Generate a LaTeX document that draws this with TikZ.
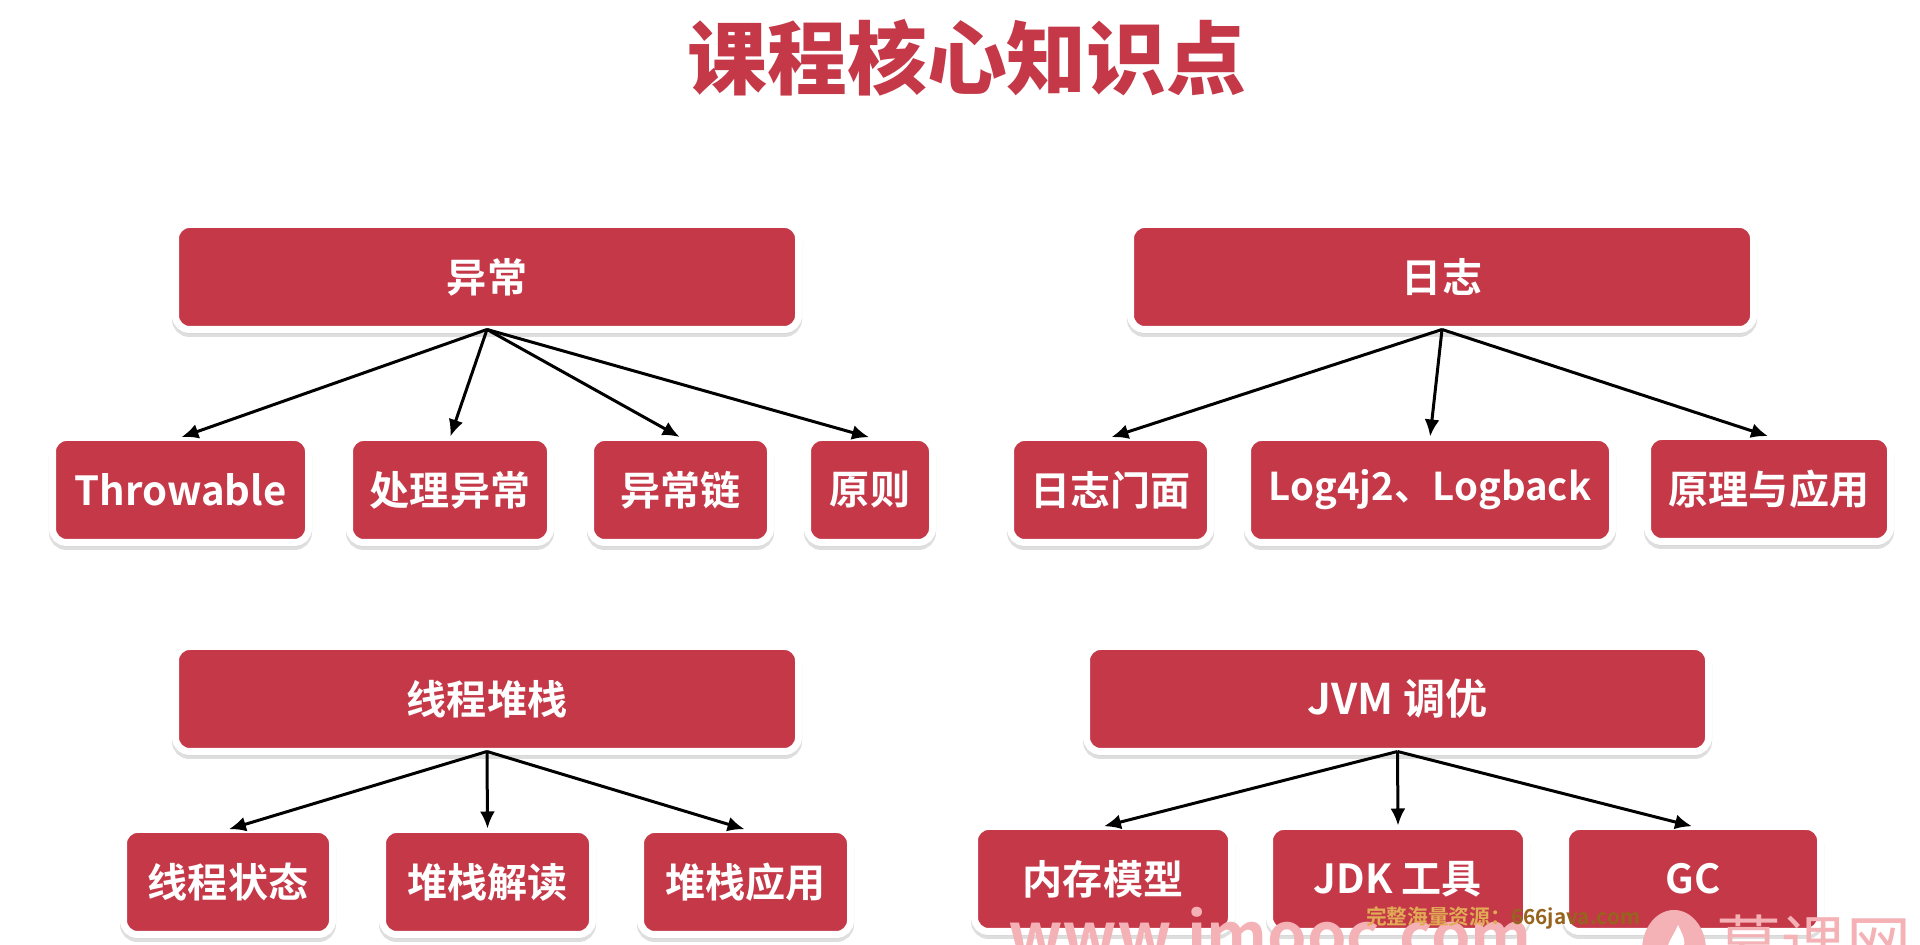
\documentclass[tikz,border=0pt]{standalone}
\usepackage{fontspec}
\usetikzlibrary{shadows,arrows.meta}
\setmainfont{Noto Sans CJK SC}[BoldFont={* Bold}]
\newfontfamily\heavyfont{Noto Sans CJK SC Black}
\definecolor{boxred}{RGB}{196,56,72}
\definecolor{markpink}{RGB}{245,178,182}
\definecolor{markgold}{RGB}{150,100,30}
\definecolor{markpale}{RGB}{225,170,85}
\tikzset{
  topic/.style={rectangle, rounded corners=.14cm, fill=boxred, draw=white, line width=.07cm,
    text=white, font=\bfseries\fontsize{11.4}{13}\selectfont, inner sep=0pt, outer sep=0pt, align=center,
    minimum height=1.05cm,
    drop shadow={shadow xshift=0cm, shadow yshift=-.04cm, draw=black!25, fill=black!25}},
  link/.style={-{Latex[length=.17cm,width=.15cm]}, black, line width=.03cm, shorten >=.01cm},
}
\begin{document}
\begin{tikzpicture}
 \useasboundingbox (0cm, 0cm) rectangle (19.2cm, 9.45cm);
 \fill[white] (0cm, 0cm) rectangle (19.2cm, 9.45cm);

 \node[text=boxred, font=\heavyfont\fontsize{22.7}{26}\selectfont] (title) at (9.67cm, 8.87cm) {课程核心知识点};

 % top left
 \node[topic, minimum width=6.23cm] (yichang) at (4.87cm, 6.68cm) {异常};
 \node[topic, minimum width=2.56cm] (throwable) at (1.805cm, 4.55cm) {Throwable};
 \node[topic, minimum width=2.01cm] (chuli) at (4.50cm, 4.55cm) {处理异常};
 \node[topic, minimum width=1.80cm] (lian) at (6.805cm, 4.55cm) {异常链};
 \node[topic, minimum width=1.25cm] (yuanze) at (8.70cm, 4.55cm) {原则};

 % top right
 \node[topic, minimum width=6.23cm] (rizhi) at (14.42cm, 6.68cm) {日志};
 \node[topic, minimum width=2.00cm] (menmian) at (11.105cm, 4.55cm) {日志门面};
 \node[topic, minimum width=3.65cm, font=\bfseries\fontsize{10.9}{13}\selectfont] (logj) at (14.30cm, 4.55cm) {Log4j2、Logback};
 \node[topic, minimum width=2.43cm] (yuanli) at (17.69cm, 4.56cm) {原理与应用};

 % bottom left
 \node[topic, minimum width=6.23cm] (xiancheng) at (4.87cm, 2.46cm) {线程堆栈};
 \node[topic, minimum width=2.09cm] (zhuangtai) at (2.28cm, .63cm) {线程状态};
 \node[topic, minimum width=2.10cm] (jiedu) at (4.875cm, .63cm) {堆栈解读};
 \node[topic, minimum width=2.10cm] (yingyong) at (7.455cm, .63cm) {堆栈应用};

 % bottom right
 \node[topic, minimum width=6.22cm, font=\bfseries\fontsize{12}{13}\selectfont] (jvm) at (13.975cm, 2.46cm) {JVM 调优};
 \node[topic, minimum width=2.57cm] (neicun) at (11.03cm, .66cm) {内存模型};
 \node[topic, minimum width=2.57cm] (jdk) at (13.98cm, .66cm) {JDK 工具};
 \node[topic, minimum width=2.55cm] (gc) at (16.93cm, .66cm) {GC};

 \foreach \from/\to in {yichang/throwable, yichang/chuli, yichang/lian, yichang/yuanze,
   rizhi/menmian, rizhi/logj, rizhi/yuanli,
   xiancheng/zhuangtai, xiancheng/jiedu, xiancheng/yingyong,
   jvm/neicun, jvm/jdk, jvm/gc}
   \draw[link] (\from.south) -- (\to.north);

 % watermark, cut off by the page edge
 \begin{scope}
 \clip (0cm, 0cm) rectangle (19.2cm, 9.45cm);
 \node[text=markpink, anchor=base, font=\bfseries\fontsize{18}{20}\selectfont] (site) at (12.7cm, -.14cm) {www.imooc.com};
 \node[text=markpink, font=\fontsize{18.5}{20}\selectfont] (brand) at (18.14cm, 0cm) {慕课网};
 \fill[markpink] (16.74cm, -.05cm) ellipse (.32cm and .4cm);
 \fill[white] (16.78cm, .2cm) .. controls (16.85cm, .05cm) and (16.9cm, -.02cm) .. (16.72cm, -.1cm) .. controls (16.62cm, -.02cm) and (16.72cm, .05cm) .. (16.78cm, .2cm);
 \node[font=\bfseries\fontsize{5.9}{6}\selectfont] (res) at (15.03cm, .27cm) {\textcolor{markpale}{完整海量资源：}\textcolor{markgold}{666java.com}};
 \end{scope}
\end{tikzpicture}
\end{document}
